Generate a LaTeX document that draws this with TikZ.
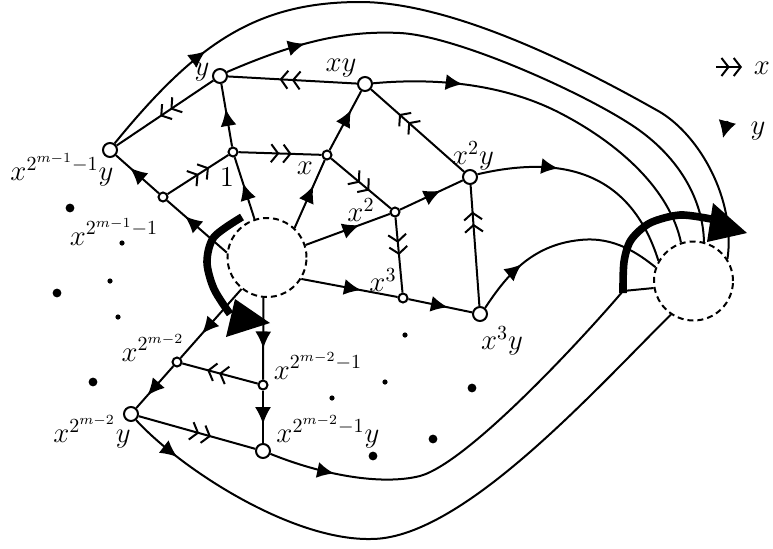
\documentclass[tikz,border=0pt]{standalone}
\usetikzlibrary{arrows.meta,decorations.markings}
\tikzset{
  yarr/.style={postaction={decorate,decoration={markings,mark=at position #1 with {\arrow{Latex[length=8.5pt,width=8pt]}}}}},
  yarr/.default=0.55,
  xarr/.style={postaction={decorate,decoration={markings,mark=at position #1 with {\arrow{Straight Barb[length=3.5pt,width=9pt,sep=1.5pt] Straight Barb[length=3.5pt,width=9pt]}}}}},
  xarr/.default=0.6,
  vmed/.style={circle,draw,fill=white,minimum size=7pt,inner sep=0pt,line width=1pt},
  vsml/.style={circle,draw,fill=white,minimum size=4.5pt,inner sep=0pt,line width=1pt},
  vbig/.style={circle,draw,dash pattern=on 3pt off 2pt,minimum size=39.5pt,inner sep=0pt,line width=1pt},
  lab/.style={inner sep=0pt,font=\Large},
  heavy/.style={line width=3.8pt},
}
\begin{document}
\begin{tikzpicture}[x=0.5pt,y=-0.5pt,line width=1pt]
\useasboundingbox (0,0) rectangle (773,548);
% vertices
\node[vbig] (C1) at (267,257.5) {};
\node[vbig] (C2) at (693.5,281) {};
\node[vmed] (ny) at (220,76) {};
\node[vmed] (nxy) at (365,84) {};
\node[vmed] (nxm1y) at (110,150) {};
\node[vsml] (n1) at (233,152) {};
\node[vsml] (nx) at (327,155) {};
\node[vsml] (nx2) at (395,212) {};
\node[vmed] (nx2y) at (470,177) {};
\node[vsml] (nx3) at (403,298) {};
\node[vmed] (nx3y) at (480,314) {};
\node[vsml] (nxm1) at (163,197) {};
\node[vsml] (nx2m2) at (177,362) {};
\node[vsml] (nx2m2m1) at (263,385) {};
\node[vmed] (nx2m2y) at (131,414) {};
\node[vmed] (nx2m2m1y) at (263,451) {};
% straight y-edges
\draw[yarr=0.6] (n1) -- (ny);
\draw[yarr=0.67] (nxm1) -- (nxm1y);
\draw[yarr=0.7] (C1.173) -- (nxm1);
\draw[yarr=0.58] (C1.108) -- (n1);
\draw[yarr=0.62] (C1.47) -- (nx);
\draw[yarr=0.68] (nx) -- (nxy);
\draw[yarr=0.64] (C1.18) -- (nx2);
\draw[yarr=0.65] (nx2) -- (nx2y);
\draw[yarr=0.62] (C1.-32) -- (nx3);
\draw[yarr=0.62] (nx3) -- (nx3y);
\draw[yarr=0.65] (C1.231) -- (nx2m2);
\draw[yarr=0.62] (C1.265) -- (nx2m2m1);
\draw[yarr=0.7] (nx2m2) -- (nx2m2y);
\draw[yarr=0.64] (nx2m2m1) -- (nx2m2m1y);
% straight x-edges
\draw[xarr=0.6] (nxy) -- (ny);
\draw[xarr=0.55] (ny) -- (nxm1y);
\draw[xarr=0.68] (nxm1) -- (n1);
\draw[xarr=0.64] (n1) -- (nx);
\draw[xarr=0.64] (nx) -- (nx2);
\draw[xarr=0.5] (nx2) -- (nx3);
\draw[xarr=0.78] (nx3y) -- (nx2y);
\draw[xarr=0.7] (nx2y) -- (nxy);
\draw[xarr=0.67] (nx2m2m1) -- (nx2m2);
\draw[xarr=0.62] (nx2m2y) -- (nx2m2m1y);
% long curves into the right circle
\draw[yarr=0.165] (nxm1y.55) .. controls (195,45) and (255,2) .. (360,2)
   .. controls (460,2) and (600,78) .. (660,112)
   .. controls (700,136) and (736,200) .. (C2.33);
\draw[yarr=0.145] (ny.30) .. controls (290,45) and (340,30) .. (400,33)
   .. controls (460,36) and (600,100) .. (643,133)
   .. controls (680,161) and (703,200) .. (C2.75);
\draw[yarr=0.24] (nxy.5) .. controls (430,78) and (500,82) .. (560,113)
   .. controls (620,144) and (670,190) .. (C2.108);
\draw[yarr=0.36] (nx2y.20) .. controls (560,155) and (630,170) .. (C2.150);
\draw[yarr=0.28] (nx3y.50) .. controls (505,278) and (530,245) .. (580,240)
   .. controls (615,236) and (640,255) .. (C2.160);
\draw[yarr=0.145] (nx2m2m1y.-21) .. controls (320,474) and (380,486) .. (420,476)
   .. controls (470,462) and (590,330) .. (623,291) -- (C2.190);
\draw[yarr=0.085] (nx2m2y.-50) .. controls (180,468) and (290,540) .. (370,539)
   .. controls (460,540) and (590,395) .. (C2.236);
% heavy turning arrows
\draw[heavy] plot[smooth] coordinates {(242,217) (214,237) (207,262) (214,289) (230,314)};
\fill (235,299) -- (270,323) -- (226,337) -- cycle;
\draw[heavy] plot[smooth] coordinates {(623,293) (624,262) (631,240) (650,223) (680,215) (711,219)};
\fill (713,203) -- (747,233) -- (707,242) -- cycle;
% dots
\foreach \p in {(70,208),(57,293),(93,382),(472,388),(433,439),(373,456)} \fill \p circle (2.2pt);
\foreach \p in {(122,243),(110,281),(118,317),(332,398),(385,382),(405,335)} \fill \p circle (1.3pt);
% labels
\node[lab] (ly) at (202,72) {$y$};
\node[lab] (lxy) at (341,68) {$xy$};
\node[lab] (lxm1y) at (62,170) {$x^{2^{m-1}-1}y$};
\node[lab] (l1) at (227,177) {$1$};
\node[lab] (lx) at (305,168) {$x$};
\node[lab] (lx2) at (361,210) {$x^2$};
\node[lab] (lx2y) at (473,156) {$x^2y$};
\node[lab] (lx3) at (383,280) {$x^3$};
\node[lab] (lx3y) at (502,341) {$x^3y$};
\node[lab] (lxm1) at (114,232) {$x^{2^{m-1}-1}$};
\node[lab] (lx2m2) at (153,348) {$x^{2^{m-2}}$};
\node[lab] (lx2m2m1) at (318,366) {$x^{2^{m-2}-1}$};
\node[lab] (lx2m2y) at (92,432) {$x^{2^{m-2}}y$};
\node[lab] (lx2m2m1y) at (328,432) {$x^{2^{m-2}-1}y$};
% legend
\coordinate (lxa) at (716,67);
\coordinate (lxb) at (742,67);
\draw[-{Straight Barb[length=3.5pt,width=9pt,sep=1.5pt] Straight Barb[length=3.5pt,width=9pt]}] (lxa) -- (lxb);
\node[lab] (legx) at (762,68) {$x$};
\coordinate (lya) at (727.5,121);
\coordinate (lyb) at (723,138);
\draw[-{Latex[length=8.5pt,width=9pt]}] (lya) -- (lyb);
\node[lab] (legy) at (758,131) {$y$};
\end{tikzpicture}
\end{document}
